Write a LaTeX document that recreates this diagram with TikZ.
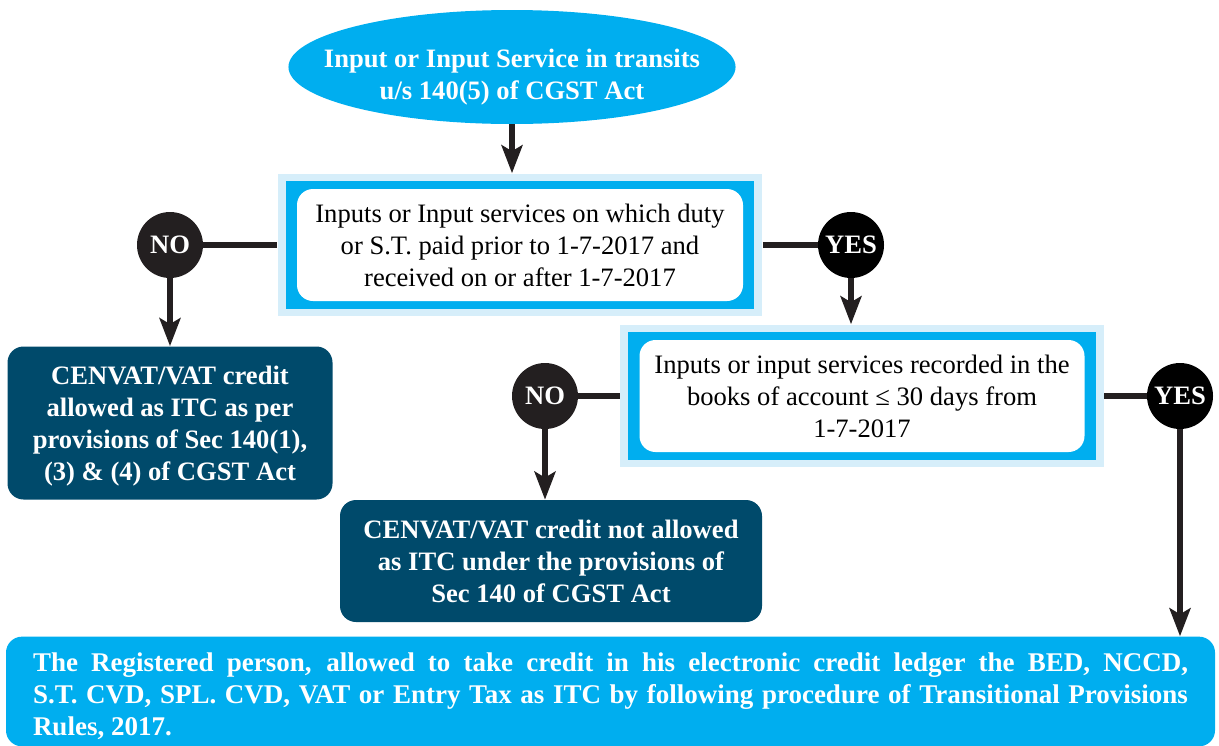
\documentclass[tikz,border=0pt]{standalone}
\usepackage{fontspec}
\setmainfont{Liberation Serif}
\usetikzlibrary{shapes.geometric,arrows.meta,positioning,calc,backgrounds,fit}
\definecolor{skyblue}{RGB}{0,174,239}
\definecolor{paleblue}{RGB}{214,238,250}
\definecolor{deepteal}{RGB}{0,74,107}
\definecolor{nodark}{RGB}{35,31,32}

\begin{document}
\begin{tikzpicture}[
  x=0.5pt, y=-0.5pt,
  font=\fontsize{13.3}{16}\selectfont,
  start/.style={
    ellipse,
    fill=skyblue,
    text=white,
    minimum width=222pt,
    minimum height=57pt,
    inner xsep=-15pt,
    inner ysep=0pt,
    align=center,
    font=\fontsize{13.3}{16}\selectfont\bfseries
  },
  query/.style={
    fill=white,
    rounded corners=8pt,
    minimum width=#1,
    minimum height=56pt,
    inner sep=0pt,
    align=center
  },
  innerframe/.style={fill=skyblue, inner xsep=5.5pt, inner ysep=4pt},
  outerframe/.style={fill=paleblue, inner xsep=9.5pt, inner ysep=7.5pt},
  answer/.style={
    circle,
    fill=#1,
    text=white,
    minimum size=33pt,
    inner sep=0pt,
    font=\fontsize{13.3}{16}\selectfont\bfseries
  },
  result/.style={
    fill=deepteal,
    rounded corners=8pt,
    text=white,
    inner sep=0pt,
    align=center,
    font=\fontsize{13.3}{16}\selectfont\bfseries
  },
  link/.style={line width=2.8pt, draw=nodark},
  flow/.style={line width=2.6pt, draw=nodark, fill=nodark,
    -{Stealth[length=14pt, width=10.5pt, inset=3pt]}}
]
\useasboundingbox (0,0) rectangle (1219,745);

% -------- Start --------
\node[start] (src) at (512,67)
{\rule{0pt}{19pt}Input or Input Service in transits\\
u/s 140(5) of CGST Act};

% -------- Questions --------
\node[query=223pt] (q1) at (520,245)
{Inputs or Input services on which duty\\
or S.T. paid prior to 1-7-2017 and\\
received on or after 1-7-2017};

\node[query=222.5pt] (q2) at (862,396)
{Inputs or input services recorded in the\\
books of account ≤ 30 days from\\
1-7-2017};

\begin{scope}[on background layer]
\node[outerframe, fit=(q1)] (q1o) {};
\node[innerframe, fit=(q1)] (q1i) {};
\node[outerframe, fit=(q2)] (q2o) {};
\node[innerframe, fit=(q2)] (q2i) {};
\end{scope}

% -------- Answers --------
\node[answer=nodark] (no1)  at (170,245)  {NO};
\node[answer=black]  (yes1) at (851,245)  {YES};
\node[answer=nodark] (no2)  at (545,396)  {NO};
\node[answer=black]  (yes2) at (1180,396) {YES};

% -------- Results --------
\node[result, minimum width=162.5pt, minimum height=76.5pt] (r1) at (170,423)
{\rule{0pt}{12.2pt}CENVAT/VAT credit\\
allowed as ITC as per\\
provisions of Sec 140(1),\\
(3) \& (4) of CGST Act};

\node[result, minimum width=211pt, minimum height=61pt] (r2) at (551,561)
{CENVAT/VAT credit not allowed\\
as ITC under the provisions of\\
Sec 140 of CGST Act};

\node[
fill=skyblue,
rounded corners=8pt,
text=white,
minimum width=604.5pt,
minimum height=53.5pt,
inner xsep=0pt,
text width=577.5pt,
align=justify,
font=\fontsize{13.5}{16}\selectfont\bfseries
] (fin) at (610.5,691.5)
{\rule{0pt}{14.1pt}The Registered person, allowed to take credit in his electronic credit ledger the BED, NCCD,\linebreak
S.T. CVD, SPL. CVD, VAT or Entry Tax as ITC by following procedure of Transitional Provisions\linebreak
Rules, 2017.};

% -------- Connectors --------
\draw[flow] (src.south) -- (src.south |- q1o.north);
\draw[link] (no1.east) -- (q1o.west);
\draw[link] (q1o.east) -- (yes1.west);
\draw[flow] (no1.south) -- (r1.north);
\draw[flow] (yes1.south) -- (yes1.south |- q2o.north);
\draw[link] (no2.east) -- (q2o.west);
\draw[link] (q2o.east) -- (yes2.west);
\draw[flow] (no2.south) -- (no2.south |- r2.north);
\draw[flow] (yes2.south) -- (yes2.south |- fin.north);

\end{tikzpicture}
\end{document}
